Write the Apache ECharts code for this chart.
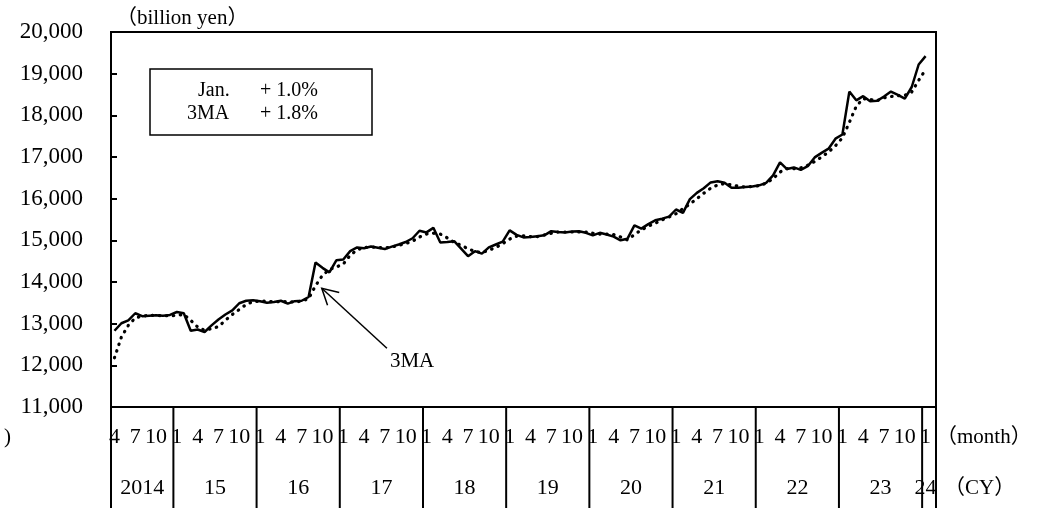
<!DOCTYPE html>
<html>
<head>
<meta charset="utf-8">
<script src="https://cdn.jsdelivr.net/npm/echarts@6/dist/echarts.min.js"></script>
<style>
  html, body { margin: 0; padding: 0; background: #fff; }
  #main { width: 1043px; height: 508px; }
</style>
</head>
<body>
<div id="main"></div>
<script>
// monthly values, Apr 2014 .. Jan 2024 (billion yen)
var actual = [
  12830, 13010, 13080, 13250, 13180, 13190, 13200, 13190, 13210,
  13280, 13250, 12830, 12860, 12800, 12960, 13100, 13220, 13320, 13490, 13550, 13560,
  13540, 13500, 13520, 13550, 13480, 13540, 13550, 13640, 14470, 14340, 14230, 14520,
  14540, 14740, 14830, 14810, 14850, 14820, 14790, 14850, 14900, 14960, 15050, 15230,
  15190, 15300, 14950, 14960, 14980, 14800, 14620, 14740, 14680, 14830, 14900, 14970,
  15240, 15130, 15070, 15080, 15100, 15120, 15220, 15200, 15190, 15210, 15220, 15180,
  15120, 15180, 15140, 15090, 15000, 15040, 15360, 15280, 15390, 15480, 15520, 15570,
  15740, 15660, 15990, 16140, 16250, 16390, 16420, 16380, 16260, 16260, 16280, 16290,
  16320, 16380, 16560, 16870, 16710, 16750, 16690, 16780, 16990, 17100, 17200, 17440,
  17540, 18570, 18360, 18460, 18340, 18350, 18450, 18570, 18490, 18400, 18680, 19220,
  19420
];
var ma3 = [
  12180, 12680, 12960, 13140, 13180, 13200, 13200, 13190, 13190,
  13200, 13220, 13080, 12920, 12840, 12880, 12930, 13080, 13220, 13340, 13460, 13530,
  13540, 13540, 13520, 13530, 13530, 13520, 13540, 13600, 13910, 14160, 14300, 14360,
  14430, 14640, 14770, 14830, 14840, 14830, 14820, 14840, 14880, 14920, 14980, 15080,
  15150, 15170, 15150, 15060, 14950, 14880, 14800, 14730, 14710, 14760, 14830, 14920,
  15030, 15100, 15110, 15090, 15090, 15130, 15170, 15200, 15200, 15200, 15200, 15200,
  15170, 15150, 15150, 15140, 15080, 15010, 15140, 15250, 15340, 15410, 15490, 15560,
  15640, 15760, 15870, 16000, 16130, 16250, 16330, 16360, 16330, 16300, 16280, 16290,
  16310, 16370, 16480, 16640, 16720, 16720, 16740, 16800, 16890, 17000, 17120, 17270,
  17460, 17830, 18220, 18400, 18380, 18350, 18420, 18450, 18470, 18480, 18560, 18840,
  19100
];
var yearLabels = ['2014', '15', '16', '17', '18', '19', '20', '21', '22', '23', '24'];
var monthTicks = [1, 4, 7, 10];
var startYear = 2014, startMonth = 4;
var slotCount = 119;   // one empty slot after Jan 2024
var boxLines = [['Jan.', '+ 1.0%'], ['3MA', '+ 1.8%']];
var arrowTip = [29.9, 13850];
var arrowTail = [39.3, 12410];

var FONT = '"Liberation Serif", "Noto Sans CJK JP", serif';

var categories = [];
for (var i = 0; i < slotCount; i++) {
  var k = startMonth - 1 + i;
  categories.push((startYear + Math.floor(k / 12)) + '-' + (k % 12 + 1));
}
function monthOf(i) { return parseInt(categories[i].split('-')[1], 10); }
function yearOf(i) { return parseInt(categories[i].split('-')[0], 10); }

// year label sits in the middle of the months of that year
var yearAt = {};
yearLabels.forEach(function (lab, n) {
  var y = startYear + n, first = -1, last = -1;
  for (var i = 0; i < actual.length; i++) {
    if (yearOf(i) === y) { if (first < 0) first = i; last = i; }
  }
  var mid = (first + last) / 2;
  yearAt[Math.floor(mid)] = { text: lab, half: mid % 1 !== 0 };
});

var chart = echarts.init(document.getElementById('main'), null, { renderer: 'canvas' });

var option = {
  animation: false,
  backgroundColor: '#fff',
  grid: {
    left: 111, right: 107, top: 32, bottom: 101,
    show: true, borderColor: '#000', borderWidth: 2
  },
  xAxis: [{
    type: 'category',
    data: categories,
    boundaryGap: true,
    axisLine: { lineStyle: { color: '#000', width: 2 } },
    axisTick: { show: false },
    axisLabel: {
      interval: function (i) { return i < actual.length && monthTicks.indexOf(monthOf(i)) >= 0; },
      formatter: function (v, i) { return String(monthOf(i)); },
      margin: 19, color: '#000', fontFamily: FONT, fontSize: 22
    }
  }, {
    type: 'category',
    data: categories,
    position: 'bottom',
    boundaryGap: true,
    axisLine: { show: false },
    axisTick: { show: false },
    axisLabel: {
      interval: function (i) { return !!yearAt[i]; },
      formatter: function (v, i) {
        var y = yearAt[i];
        return y ? (y.half ? '{h|' + y.text + '}' : '{n|' + y.text + '}') : '';
      },
      margin: 70, color: '#000', fontFamily: FONT, fontSize: 22,
      rich: {
        n: { color: '#000', fontFamily: FONT, fontSize: 22 },
        h: { color: '#000', fontFamily: FONT, fontSize: 22, padding: [0, 0, 0, 7] }
      }
    }
  }],
  yAxis: {
    type: 'value',
    min: 11000, max: 20000, interval: 1000,
    axisLine: { show: true, lineStyle: { color: '#000', width: 2 } },
    axisTick: { show: true, inside: true, length: 6, lineStyle: { color: '#000', width: 2 } },
    splitLine: { show: false },
    axisLabel: {
      margin: 28, color: '#000', fontFamily: FONT, fontSize: 23,
      formatter: function (v) { return v.toLocaleString('en-US'); }
    }
  },
  series: [{
    name: '3MA', type: 'line', data: ma3, symbol: 'none', z: 3,
    lineStyle: { color: '#000', width: 3.2, type: [0.5, 6.5], cap: 'round' }
  }, {
    name: 'Jan.', type: 'line', data: actual, symbol: 'none', z: 4,
    lineStyle: { color: '#000', width: 2.5 }
  }]
};
chart.setOption(option);

// pixel helpers from the chart's own scales
function toPx(pt) {
  var i0 = Math.floor(pt[0]), f = pt[0] - i0;
  var a = chart.convertToPixel({ gridIndex: 0 }, [i0, pt[1]]);
  var b = chart.convertToPixel({ gridIndex: 0 }, [i0 + 1, pt[1]]);
  return [a[0] + f * (b[0] - a[0]), a[1]];
}
var tip = toPx(arrowTip), tail = toPx(arrowTail);
var ang = Math.atan2(tail[1] - tip[1], tail[0] - tip[0]);
function arm(d) {
  return [tip[0] + 18 * Math.cos(ang + d), tip[1] + 18 * Math.sin(ang + d)];
}

// year separators below the axis: at the left edge of each January and at both ends
var axisY = chart.convertToPixel({ yAxisIndex: 0 }, 11000);
var gfx = [];
for (var j = 0; j <= slotCount; j++) {
  if (j === 0 || j === slotCount || (j < slotCount && monthOf(j) === 1)) {
    var x = toPx([j - 0.5, 11000])[0];
    gfx.push({ type: 'line', z: 11, shape: { x1: x, y1: axisY, x2: x, y2: 508 },
      style: { stroke: '#000', lineWidth: 2 } });
  }
}

function txt(t, x, y, size) {
  return { type: 'text', x: x, y: y, z: 11,
    style: { text: t, fill: '#000', font: size + 'px ' + FONT, verticalAlign: 'middle' } };
}

gfx.push(
  { type: 'rect', shape: { x: 150, y: 69, width: 222, height: 66 },
    style: { fill: '#fff', stroke: '#000', lineWidth: 1.5 }, z: 10 },
  txt(boxLines[0][0], 198, 91, 20),
  txt(boxLines[0][1], 260, 91, 20),
  txt(boxLines[1][0], 187, 114, 20),
  txt(boxLines[1][1], 260, 114, 20),
  { type: 'polyline', z: 11, shape: { points: [tail, tip] }, style: { stroke: '#000', lineWidth: 1.5, fill: null } },
  { type: 'polyline', z: 11, shape: { points: [arm(-0.5), tip, arm(0.5)] }, style: { stroke: '#000', lineWidth: 1.5, fill: null } },
  txt('3MA', tail[0] + 3, tail[1] + 13, 21),
  txt('（billion yen）', 116, 18, 21),
  txt('（month）', 936, 437, 21),
  txt('（CY）', 944, 488, 21),
  txt(')', 4, 437, 21)
);
chart.setOption({ graphic: gfx });
</script>
</body>
</html>
